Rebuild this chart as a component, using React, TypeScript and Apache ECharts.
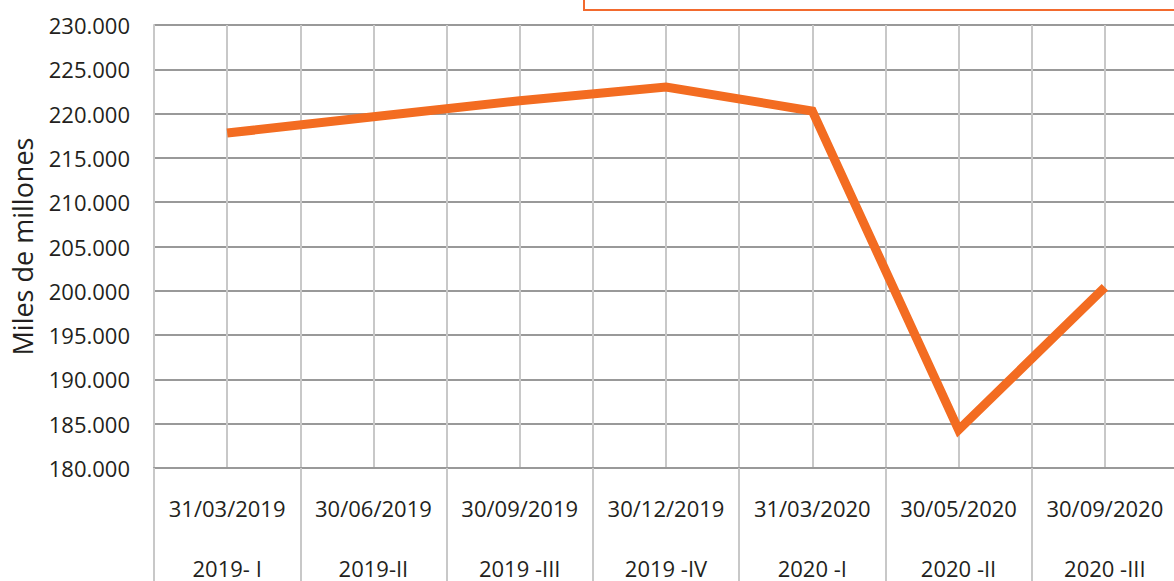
import React, { useEffect, useRef } from "react";
import * as echarts from "echarts";

const dates = ["31/03/2019", "30/06/2019", "30/09/2019", "30/12/2019", "31/03/2020", "30/05/2020", "30/09/2020"];
const periods = ["2019- I", "2019-II", "2019 -III", "2019 -IV", "2020 -I", "2020 -II", "2020 -III"];
const values = [217800, 219650, 221450, 223000, 220300, 184300, 200400];
const yMin = 180000;
const yMax = 230000;
const yStep = 5000;

const fmt = (v: number) => {
  const s = Math.round(v).toString();
  return s.replace(/\B(?=(\d{3})+(?!\d))/g, ".");
};

export default function App() {
  const ref = useRef<HTMLDivElement>(null);
  useEffect(() => {
    document.body.style.margin = "0";
    const chart = echarts.init(ref.current!, null, { renderer: "svg" });
    const font = "'Open Sans', 'Noto Sans', sans-serif";
    const cats = dates.map((d, i) => d + "\n" + periods[i]);
    chart.setOption({
      animation: false,
      textStyle: { fontFamily: font },
      grid: { left: 154, top: 25, width: 1024, height: 443, containLabel: false, outerBoundsMode: "none" },
      xAxis: [
        {
          type: "category",
          data: cats,
          boundaryGap: true,
          axisLine: { show: true, lineStyle: { color: "#999999", width: 2 } },
          axisTick: { show: true, length: 115, lineStyle: { color: "#c8c8c8", width: 2 } },
          axisLabel: {
            color: "#231f20",
            fontSize: 22,
            fontFamily: font,
            lineHeight: 60,
            margin: 10,
            interval: 0,
          },
          splitLine: { show: false },
        },
        {
          type: "value",
          min: 0,
          max: 14,
          interval: 1,
          show: true,
          position: "bottom",
          axisLine: { show: false },
          axisTick: { show: false },
          axisLabel: { show: false },
          splitLine: { show: true, lineStyle: { color: "#c8c8c8", width: 2 } },
        },
      ],
      yAxis: {
        type: "value",
        min: yMin,
        max: yMax,
        interval: yStep,
        name: "Miles de millones",
        nameLocation: "middle",
        nameGap: 118,
        nameTextStyle: { color: "#231f20", fontSize: 27, fontFamily: font },
        axisLine: { show: true, lineStyle: { color: "#c8c8c8", width: 2 } },
        axisTick: { show: false },
        axisLabel: {
          color: "#231f20",
          fontSize: 22,
          fontFamily: font,
          margin: 24,
          formatter: (v: number) => fmt(v),
        },
        splitLine: { show: true, lineStyle: { color: "#999999", width: 2 } },
      },
      series: [
        {
          type: "line",
          xAxisIndex: 0,
          data: values,
          symbol: "none",
          lineStyle: { color: "#f36c21", width: 9, join: "miter" },
          z: 5,
        },
      ],
      graphic: [
        {
          type: "rect",
          shape: { x: 584, y: -20, width: 700, height: 30 },
          style: { fill: "#ffffff", stroke: "#f26a2e", lineWidth: 2 },
        },
      ],
    });
    return () => chart.dispose();
  }, []);
  return <div ref={ref} style={{ position: "absolute", left: 0, top: 0, width: 1174, height: 581 }} />;
}
